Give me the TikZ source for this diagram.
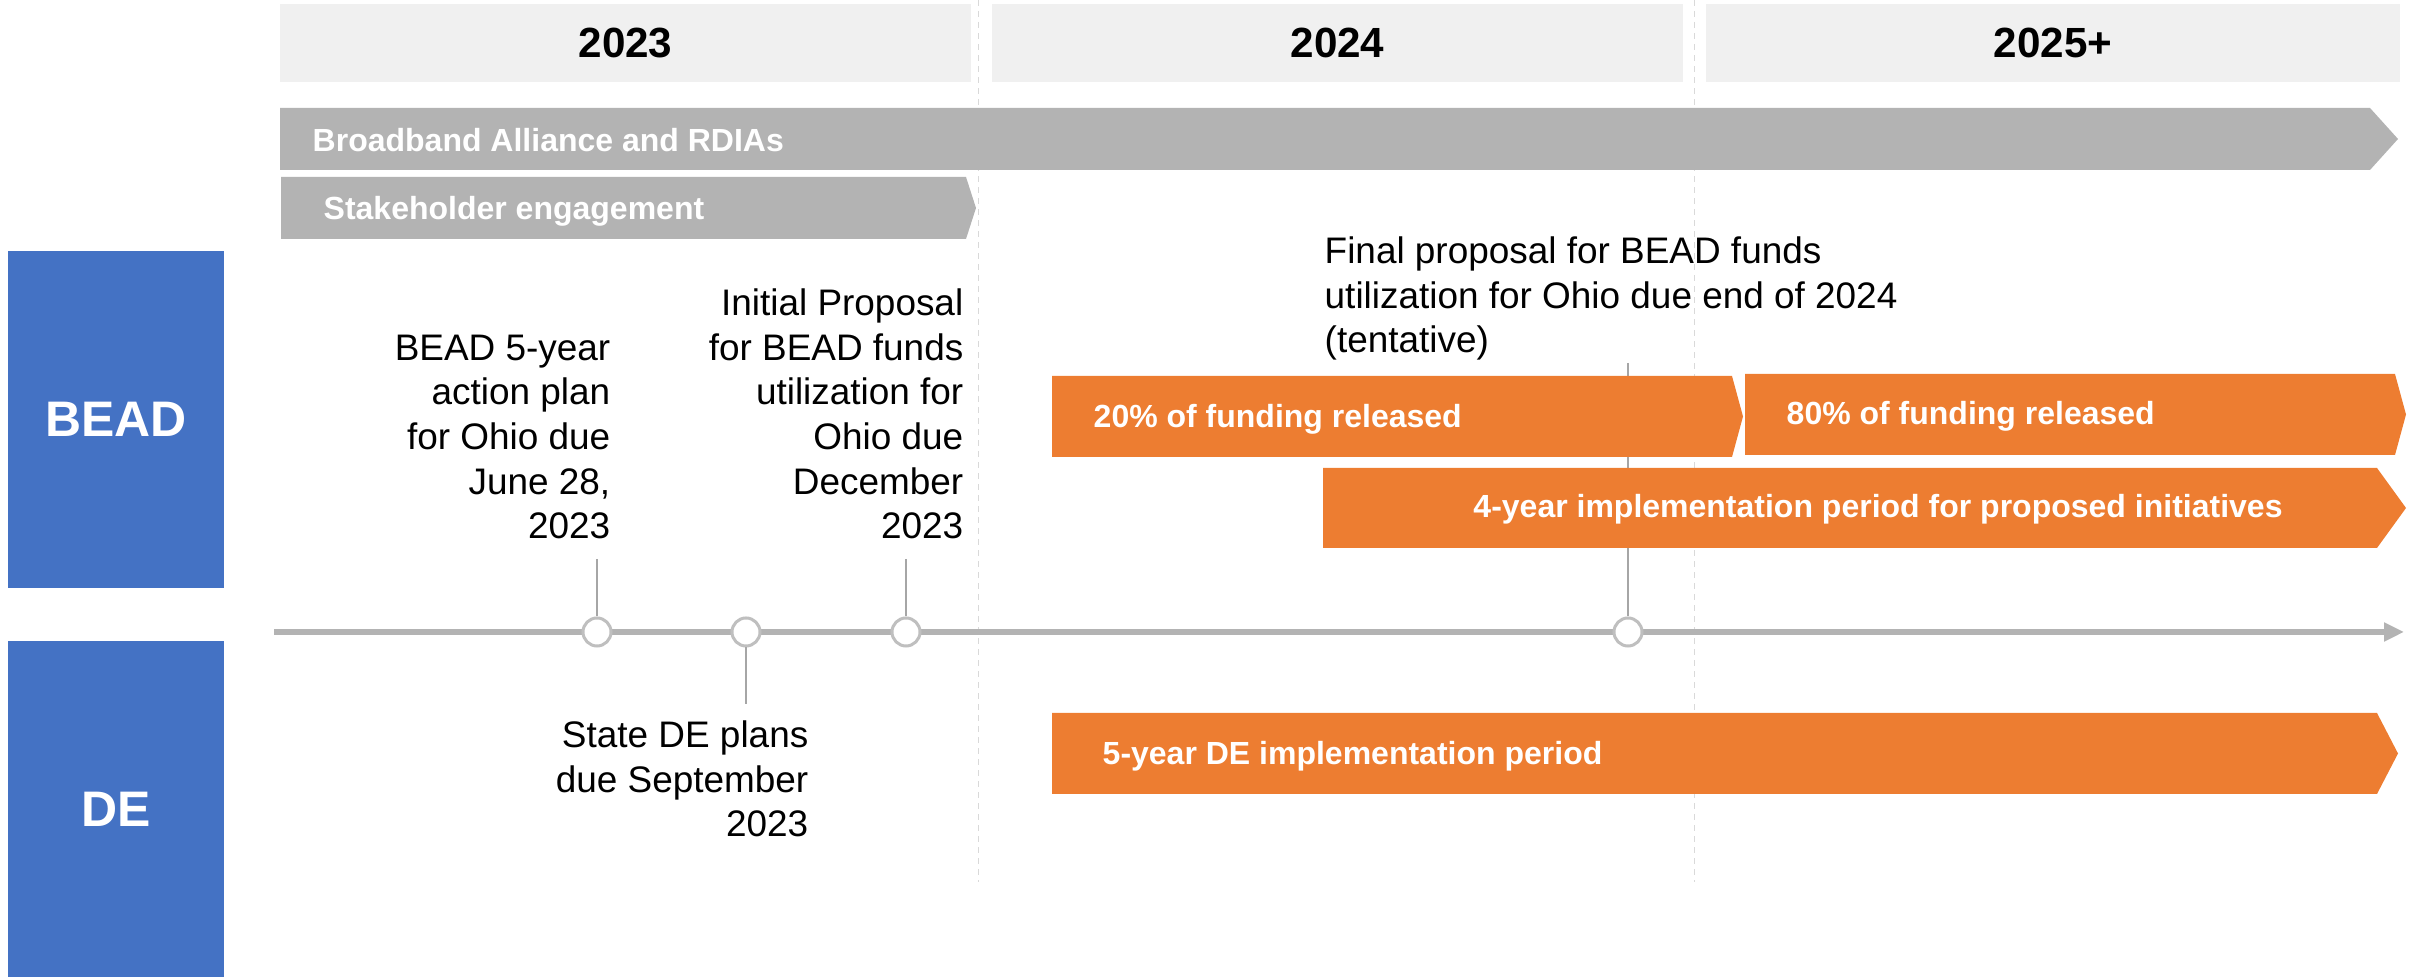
\documentclass[tikz,border=0pt]{standalone}
\usepackage{fontspec}
\setmainfont{Liberation Sans}
\usepackage{tikz}
\usetikzlibrary{calc}
\usetikzlibrary{arrows.meta}

\definecolor{beadblue}{HTML}{4472C4}
\definecolor{barorange}{HTML}{ED7D31}
\definecolor{bargray}{HTML}{B3B3B3}
\definecolor{headgray}{HTML}{F0F0F0}
\definecolor{tickgray}{HTML}{A6A6A6}
\definecolor{ringgray}{HTML}{BFBFBF}
\definecolor{divgray}{HTML}{D9D9D9}

\tikzset{
  yearhead/.style={fill=headgray, inner sep=0pt, minimum height=0.78cm,
    font=\fontsize{12}{14}\selectfont\bfseries},
  sidehead/.style={fill=beadblue, inner sep=0pt, minimum width=2.16cm, text=white,
    font=\fontsize{14.2}{16}\selectfont\bfseries},
  barlabel/.style={anchor=base west, inner sep=0pt, text=white,
    font=\fontsize{9.1}{11}\selectfont\bfseries},
  note/.style={inner sep=0pt, font=\fontsize{10.5}{12.7}\selectfont},
  milestone/.style={circle, draw=ringgray, line width=0.03cm, fill=white,
    minimum size=0.28cm, inner sep=0pt},
  tickline/.style={draw=tickgray, line width=0.015cm},
  divider/.style={draw=divgray, line width=0.01cm, dash pattern=on 0.06cm off 0.05cm},
}

\begin{document}
\begin{tikzpicture}[x=0.01cm, y=-0.01cm]
\useasboundingbox (0,0) rectangle (2420,977);

% Drawing year separators
\draw [divider] (978,0) -- (978,882);%
\draw [divider] (1694,0) -- (1694,882);%

% Drawing year headers
\node [yearhead, minimum width=6.91cm] (y2023) at (625.5,43) {2023};%
\node [yearhead, minimum width=6.91cm] (y2024) at (1337.5,43) {2024};%
\node [yearhead, minimum width=6.94cm] (y2025) at (2053,43) {2025+};%

% Drawing gray arrows
\fill [bargray] (280,108) -- (2370,108) -- (2398,139) -- (2370,170) -- (280,170) -- cycle;%
\node [barlabel] (alliance) at (312,152) {Broadband Alliance and RDIAs};%
\fill [bargray] (281,177) -- (966,177) -- (976,208) -- (966,239) -- (281,239) -- cycle;%
\node [barlabel] (stake) at (323,220) {Stakeholder engagement};%

% Drawing side labels
\node [sidehead, minimum height=3.37cm] (bead) at (116,419.5) {BEAD};%
\node [sidehead, minimum height=3.36cm] (de) at (116,809) {DE};%

% Drawing timeline
\coordinate (axstart) at (274,632);
\coordinate (axend) at (2404,632);
\draw [bargray, line width=0.06cm, -{Triangle[length=0.2cm, width=0.18cm]}] (axstart) -- (axend);%

% Marking milestones by circles
\node [milestone] (m1) at (597,632) {};%
\node [milestone] (m2) at (746,632) {};%
\node [milestone] (m3) at (906,632) {};%
\node [milestone] (m4) at (1628,632) {};%

% Drawing milestone ticks
\coordinate (t1) at (597,559);
\coordinate (t2) at (746,704);
\coordinate (t3) at (906,559);
\coordinate (t4) at (1628,363);
\draw [tickline] (t1) -- (m1.north);%
\draw [tickline] (m2.south) -- (t2);%
\draw [tickline] (t3) -- (m3.north);%
\draw [tickline] (t4) -- (m4.north);%

% Drawing orange arrows
\fill [barorange] (1052,376) -- (1732,376) -- (1743,416.5) -- (1732,457) -- (1052,457) -- cycle;%
\node [barlabel] (fund20) at (1093,428) {20\% of funding released};%
\fill [barorange] (1745,374) -- (2395,374) -- (2406,414.5) -- (2395,455) -- (1745,455) -- cycle;%
\node [barlabel] (fund80) at (1786,425) {80\% of funding released};%
\fill [barorange] (1323,468) -- (2377,468) -- (2406,508) -- (2377,548) -- (1323,548) -- cycle;%
\node [barlabel, anchor=base] (impl4) at (1878,518) {4-year implementation period for proposed initiatives};%
\fill [barorange] (1052,713) -- (2377,713) -- (2398,753.5) -- (2377,794) -- (1052,794) -- cycle;%
\node [barlabel] (impl5) at (1102,765) {5-year DE implementation period};%

% Marking milestone notes
\node [note, anchor=south east, align=right] (plan) at (611,540)
  {BEAD 5-year\\action plan\\for Ohio due\\June 28,\\2023};%
\node [note, anchor=south east, align=right] (initial) at (964,540)
  {Initial Proposal\\for BEAD funds\\utilization for\\Ohio due\\December\\2023};%
\node [note, anchor=north west, align=left] (final) at (1324,236)
  {Final proposal for BEAD funds\\utilization for Ohio due end of 2024\\(tentative)};%
\node [note, anchor=south east, align=right] (deplans) at (809,838)
  {State DE plans\\due September\\2023};%
\end{tikzpicture}
\end{document}
